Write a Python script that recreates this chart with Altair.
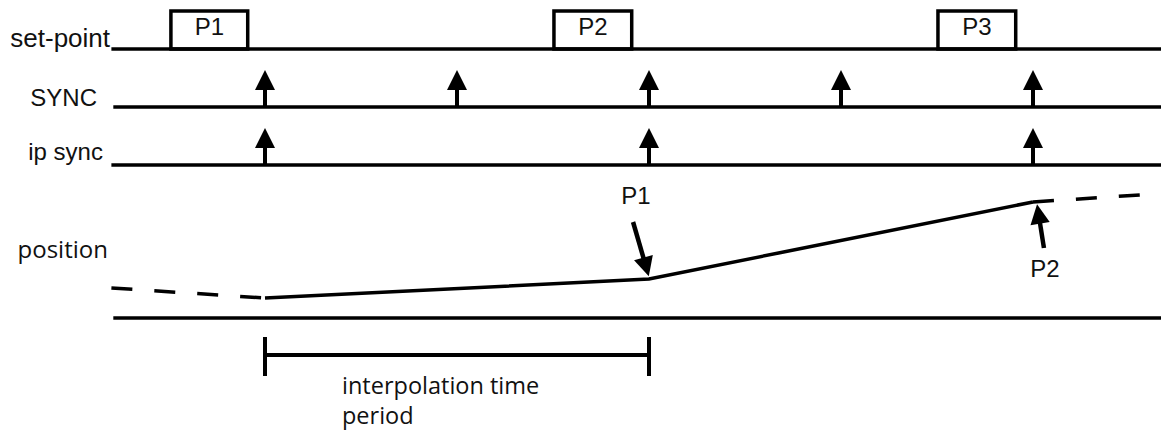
import altair as alt
import pandas as pd

# ---- data (time in SYNC periods, level in px above bottom) ----
lane_names = ["set-point", "SYNC", "ip sync", "position"]
lane_level = [382, 324, 266, 113]
lane_start = [-0.80, -0.79, -0.80, -0.79]
lane_end = [4.71, 4.71, 4.71, 4.71]
label_right = [-0.807, -0.875, -0.844, -0.818]
label_base = [384, 325, 271, 173]
label_font = ["Liberation Sans", "Liberation Sans", "Liberation Sans", "Open Sans"]
label_size = [26, 24, 24, 24]

sp_names = ["P1", "P2", "P3"]
sp_start = [-0.49, 1.505, 3.505]
sp_end = [-0.09, 1.91, 3.91]
sp_low = [382, 382, 382]
sp_high = [420, 420, 420]
sp_text_base = [396, 396, 396]

sync_t = [0, 1, 2, 3, 4]
ipsync_t = [0, 2, 4]
sync_base = 324
sync_head = 351
ipsync_base = 266
ipsync_head = 293

pos_seg = ["a", "a", "b", "b", "b", "c", "c"]
pos_style = ["dash", "dash", "solid", "solid", "solid", "dash", "dash"]
pos_t = [-0.80, 0.0, 0.0, 2.0, 4.0, 4.0, 4.71]
pos_y = [143, 133, 133, 152, 229, 229, 238]

ann_names = ["P1", "P2"]
ann_tail_t = [1.917, 4.057]
ann_tail_y = [209, 183]
ann_head_t = [1.985, 4.029]
ann_head_y = [164, 217]
ann_angle = [164, 351]
ann_text_t = [1.932, 4.0625]
ann_text_y = [227, 154]

ival_start = 0.0
ival_end = 2.0
ival_level = 76
ival_tick_low = 55
ival_tick_high = 94
ival_text = "interpolation time\nperiod"
ival_text_t = 0.401
ival_text_y = 37

# ---- scales ----
xs = alt.Scale(domain=[-1.3385, 4.6667], nice=False, zero=False)
ys = alt.Scale(domain=[0, 423], nice=False, zero=False)
ARROW = "M0,-1L-1,1L1,1Z"
BLACK = "#000000"


def X(f):
    return alt.X(f, type="quantitative", scale=xs, axis=None)


def Y(f):
    return alt.Y(f, type="quantitative", scale=ys, axis=None)


lanes = pd.DataFrame({"name": lane_names, "level": lane_level, "start": lane_start,
                      "end": lane_end, "lx": label_right, "ly": label_base,
                      "font": label_font, "size": label_size})
boxes = pd.DataFrame({"name": sp_names, "start": sp_start, "end": sp_end, "low": sp_low,
                      "high": sp_high, "tb": sp_text_base})
boxes["mid"] = (boxes["start"] + boxes["end"]) / 2
sync = pd.DataFrame({"t": sync_t + ipsync_t,
                     "base": [sync_base] * len(sync_t) + [ipsync_base] * len(ipsync_t),
                     "head": [sync_head] * len(sync_t) + [ipsync_head] * len(ipsync_t)})
pos = pd.DataFrame({"seg": pos_seg, "style": pos_style, "t": pos_t, "y": pos_y,
                    "order": list(range(len(pos_t)))})
ann = pd.DataFrame({"name": ann_names, "tt": ann_tail_t, "ty": ann_tail_y, "ht": ann_head_t,
                    "hy": ann_head_y, "ang": ann_angle, "xt": ann_text_t, "yt": ann_text_y})
ival = pd.DataFrame({"s": [ival_start], "e": [ival_end], "lvl": [ival_level]})
ticks = pd.DataFrame({"t": [ival_start, ival_end], "lo": [ival_tick_low] * 2, "hi": [ival_tick_high] * 2})
itext = pd.DataFrame({"txt": [ival_text], "t": [ival_text_t], "y": [ival_text_y]})

layers = []
layers.append(alt.Chart(lanes).mark_rule(color=BLACK, strokeWidth=3.5).encode(
    x=X("start"), x2="end", y=Y("level")))
for f in ["Liberation Sans", "Open Sans"]:
    layers.append(alt.Chart(lanes).transform_filter(alt.datum.font == f).mark_text(
        font=f, align="right", baseline="alphabetic", color="#111111").encode(
        x=X("lx"), y=Y("ly"), text="name:N",
        size=alt.Size("size:Q", scale=None, legend=None)))
layers.append(alt.Chart(boxes).mark_rect(fillOpacity=0, stroke=BLACK, strokeWidth=3.5).encode(
    x=X("start"), x2="end", y=Y("low"), y2="high"))
layers.append(alt.Chart(boxes).mark_text(font="Liberation Sans", fontSize=24, align="center",
                                         baseline="alphabetic", color="#111111").encode(
    x=X("mid"), y=Y("tb"), text="name:N"))
layers.append(alt.Chart(sync).mark_rule(color=BLACK, strokeWidth=4).encode(
    x=X("t"), y=Y("base"), y2="head"))
layers.append(alt.Chart(sync).mark_point(shape=ARROW, size=400, filled=True, color=BLACK,
                                         opacity=1, strokeWidth=0).encode(
    x=X("t"), y=Y("head")))
layers.append(alt.Chart(pos).transform_filter(alt.datum.style == "solid").mark_line(
    color=BLACK, strokeWidth=3.5).encode(x=X("t"), y=Y("y"), order="order:Q"))
layers.append(alt.Chart(pos).transform_filter(alt.datum.style == "dash").mark_line(
    color=BLACK, strokeWidth=3.5, strokeDash=[21, 22]).encode(
    x=X("t"), y=Y("y"), detail="seg:N", order="order:Q"))
layers.append(alt.Chart(ann).mark_rule(color=BLACK, strokeWidth=4.5).encode(
    x=X("tt"), y=Y("ty"), x2="ht", y2="hy"))
layers.append(alt.Chart(ann).mark_point(shape=ARROW, size=380, filled=True, color=BLACK,
                                        opacity=1, strokeWidth=0).encode(
    x=X("ht"), y=Y("hy"), angle=alt.Angle("ang:Q", scale=None)))
layers.append(alt.Chart(ann).mark_text(font="Liberation Sans", fontSize=24, align="center",
                                       baseline="alphabetic", color="#111111").encode(
    x=X("xt"), y=Y("yt"), text="name:N"))
layers.append(alt.Chart(ival).mark_rule(color=BLACK, strokeWidth=4).encode(
    x=X("s"), x2="e", y=Y("lvl")))
layers.append(alt.Chart(ticks).mark_rule(color=BLACK, strokeWidth=4).encode(
    x=X("t"), y=Y("lo"), y2="hi"))
layers.append(alt.Chart(itext).mark_text(font="Open Sans", fontSize=23.5, align="left",
                                         baseline="alphabetic", color="#111111",
                                         lineBreak="\n", lineHeight=30).encode(
    x=X("t"), y=Y("y"), text="txt:N"))

chart = alt.layer(*layers).properties(
    width=1153, height=423, padding=0, autosize="none", background="white"
).configure_view(stroke=None)

chart.save("out.html", embed_options={"renderer": "svg", "actions": False})
